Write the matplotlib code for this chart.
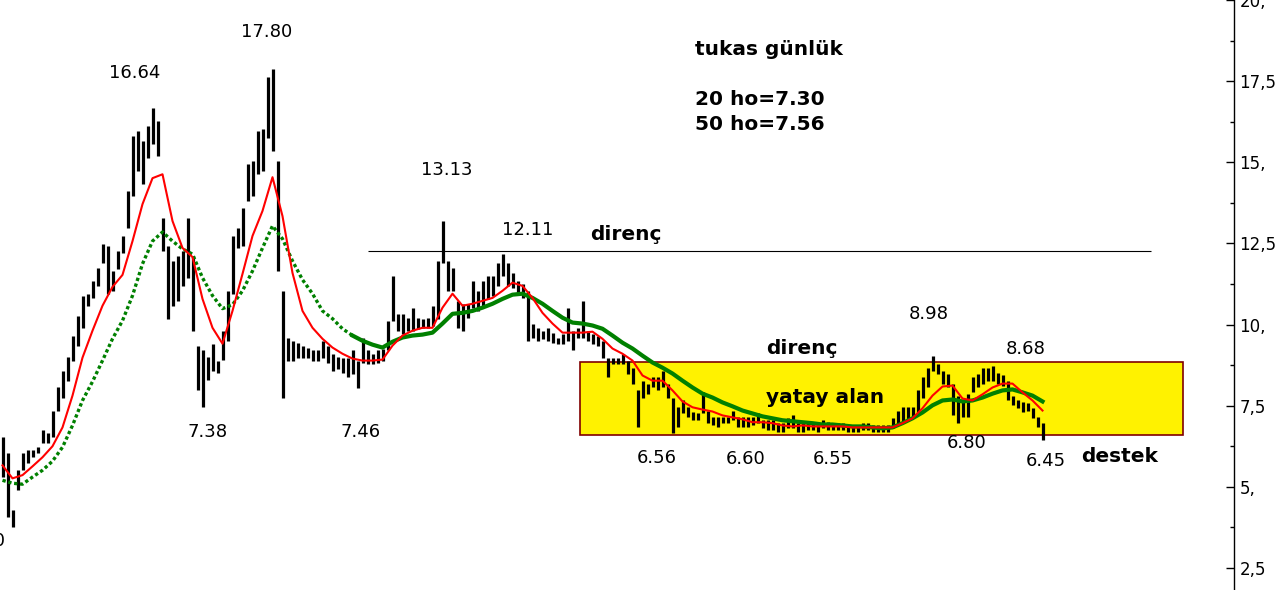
import numpy as np
import matplotlib.pyplot as plt
from matplotlib.patches import Rectangle
from matplotlib.transforms import blended_transform_factory

# daily bars (one bar every 5 px)
highs = [
    6.53, 6.03, 4.28, 5.51, 6.03, 6.12, 6.12, 6.22, 6.74, 6.65,
    7.35, 8.06, 8.58, 9.00, 9.66, 10.27, 10.89, 10.95, 11.35, 11.74,
    12.48, 12.42, 11.65, 12.27, 12.73, 14.11, 15.80, 15.95, 15.65, 16.11,
    16.66, 16.26, 13.28, 12.42, 11.96, 12.11, 12.27, 13.28, 12.11, 9.35,
    9.20, 9.00, 9.41, 8.89, 9.81, 11.04, 12.73, 12.97, 13.59, 14.94,
    15.03, 15.95, 16.04, 17.64, 17.86, 15.03, 11.04, 9.60, 9.50, 9.44,
    9.35, 9.29, 9.20, 9.20, 9.50, 9.35, 9.10, 9.00, 8.98, 8.98,
    9.20, 8.89, 9.60, 9.20, 9.10, 9.20, 9.26, 10.12, 11.50, 10.33,
    10.33, 10.21, 10.52, 10.21, 10.18, 10.21, 10.58, 11.96, 13.19, 11.96,
    11.74, 10.73, 10.64, 10.64, 11.35, 11.04, 11.35, 11.50, 11.50, 11.90,
    12.17, 11.90, 11.59, 11.35, 11.25, 11.04, 10.03, 9.90, 9.81, 9.90,
    9.75, 9.60, 9.72, 10.52, 9.81, 9.90, 10.73, 9.81, 9.72, 9.66,
    9.50, 8.98, 8.98, 8.98, 9.10, 8.89, 8.67, 7.97, 8.27, 8.18,
    8.37, 8.37, 8.58, 8.18, 7.75, 7.45, 7.66, 7.45, 7.29, 7.26,
    7.91, 7.35, 7.14, 7.14, 7.14, 7.14, 7.35, 7.14, 7.14, 7.14,
    7.14, 7.26, 7.05, 7.05, 7.05, 6.96, 6.96, 7.11, 7.20, 6.96,
    6.96, 6.96, 6.96, 6.89, 7.05, 6.99, 6.96, 6.96, 6.96, 6.89,
    6.89, 6.89, 6.96, 6.96, 6.89, 6.89, 6.89, 6.89, 7.11, 7.35,
    7.45, 7.45, 7.45, 7.97, 8.37, 8.67, 9.04, 8.79, 8.58, 8.49,
    8.18, 7.81, 7.66, 7.87, 8.37, 8.49, 8.67, 8.67, 8.73, 8.52,
    8.43, 8.27, 7.81, 7.66, 7.60, 7.57, 7.42, 7.14, 6.96,
]
lows = [
    5.30, 4.07, 3.76, 4.90, 5.51, 5.73, 5.91, 6.03, 6.34, 6.34,
    6.53, 7.35, 7.75, 8.27, 8.89, 9.35, 9.90, 10.58, 10.82, 11.19,
    11.90, 10.95, 11.04, 11.72, 12.21, 12.97, 13.96, 14.73, 14.33, 15.12,
    15.55, 15.19, 12.27, 10.18, 10.58, 10.73, 11.19, 11.44, 9.81, 7.97,
    7.45, 8.30, 8.58, 8.52, 8.90, 9.50, 10.95, 12.36, 12.42, 13.80,
    13.96, 14.63, 14.73, 15.74, 15.34, 11.65, 7.75, 8.89, 8.89, 8.98,
    8.98, 8.98, 8.89, 8.89, 8.98, 8.83, 8.58, 8.63, 8.52, 8.37,
    8.49, 8.03, 8.83, 8.79, 8.79, 8.83, 8.89, 9.20, 10.12, 9.81,
    9.72, 9.81, 9.81, 9.87, 9.90, 9.90, 9.97, 10.18, 11.90, 11.04,
    11.04, 9.90, 9.81, 10.21, 10.52, 10.42, 10.58, 10.79, 10.88, 11.19,
    11.50, 11.19, 11.13, 10.98, 10.82, 9.50, 9.60, 9.50, 9.56, 9.50,
    9.44, 9.41, 9.41, 9.50, 9.20, 9.60, 9.60, 9.50, 9.41, 9.35,
    8.98, 8.37, 8.79, 8.79, 8.79, 8.49, 8.18, 6.83, 7.75, 7.87,
    8.06, 7.97, 8.06, 7.75, 6.65, 6.83, 7.26, 7.14, 7.05, 7.05,
    7.26, 6.96, 6.89, 6.83, 6.96, 6.96, 7.05, 6.83, 6.83, 6.83,
    6.89, 6.96, 6.80, 6.74, 6.74, 6.68, 6.68, 6.80, 6.80, 6.68,
    6.68, 6.74, 6.74, 6.68, 6.80, 6.74, 6.74, 6.74, 6.74, 6.68,
    6.68, 6.68, 6.74, 6.74, 6.68, 6.68, 6.68, 6.68, 6.80, 6.89,
    6.99, 7.05, 7.14, 7.26, 7.75, 8.06, 8.58, 8.49, 8.18, 8.06,
    7.20, 6.96, 7.14, 7.14, 7.91, 8.06, 8.18, 8.27, 8.27, 8.18,
    8.12, 7.66, 7.51, 7.42, 7.29, 7.35, 7.11, 6.83, 6.43,
]

# moving averages, one point every 2 bars
ma20 = [
    5.66, 5.26, 5.36, 5.63, 5.91, 6.25, 6.83, 7.81, 8.98, 9.81,
    10.58, 11.16, 11.53, 12.57, 13.71, 14.51, 14.63, 13.19, 12.36, 12.08,
    10.79, 9.90, 9.41, 10.42, 11.56, 12.73, 13.50, 14.54, 13.34, 11.59,
    10.42, 9.90, 9.56, 9.29, 9.10, 8.95, 8.89, 8.89, 8.92, 9.35,
    9.66, 9.81, 9.90, 9.90, 10.52, 10.95, 10.58, 10.64, 10.73, 10.82,
    11.04, 11.29, 11.19, 10.82, 10.36, 10.03, 9.75, 9.75, 9.75, 9.78,
    9.56, 9.26, 9.10, 8.89, 8.43, 8.27, 8.27, 7.97, 7.63, 7.45,
    7.38, 7.32, 7.20, 7.14, 7.08, 6.99, 6.99, 6.96, 6.89, 6.86,
    6.89, 6.86, 6.86, 6.86, 6.86, 6.83, 6.83, 6.83, 6.83, 6.83,
    6.96, 7.11, 7.42, 7.81, 8.09, 8.12, 7.72, 7.66, 7.85, 8.06,
    8.18, 8.18, 7.91, 7.66, 7.35,
]
ma50 = [
    5.20, 5.11, 5.08, 5.30, 5.51, 5.79, 6.22, 6.89, 7.66, 8.24,
    8.89, 9.56, 10.12, 10.89, 11.87, 12.57, 12.85, 12.57, 12.33, 12.17,
    11.44, 10.89, 10.49, 10.61, 11.04, 11.65, 12.36, 13.04, 12.64, 11.96,
    11.38, 10.95, 10.42, 10.18, 9.87, 9.66, 9.50, 9.38, 9.29, 9.47,
    9.60, 9.66, 9.69, 9.75, 10.03, 10.33, 10.36, 10.42, 10.52, 10.64,
    10.79, 10.92, 10.95, 10.82, 10.64, 10.42, 10.21, 10.06, 10.03, 9.97,
    9.87, 9.66, 9.44, 9.26, 9.04, 8.83, 8.67, 8.49, 8.27, 8.06,
    7.87, 7.75, 7.60, 7.48, 7.35, 7.26, 7.17, 7.11, 7.05, 7.02,
    6.99, 6.96, 6.92, 6.92, 6.89, 6.86, 6.86, 6.83, 6.80, 6.83,
    6.96, 7.11, 7.29, 7.51, 7.66, 7.69, 7.63, 7.66, 7.75, 7.87,
    7.97, 8.00, 7.91, 7.81, 7.63,
]
ma_step = 2
dotted_until = 35

yticks = [2.5, 5, 7.5, 10, 12.5, 15, 17.5, 20]
ytick_labels = ['2,5', '5,', '7,5', '10,', '12,5', '15,', '17,5', '20,']

# price labels: text, bar index, price level
price_labels = [
    ('16.64', 26.5, 17.76), ('17.80', 52.9, 19.02), ('13.13', 88.9, 14.76),
    ('12.11', 105.1, 12.91), ('7.38', 41.1, 6.68), ('7.46', 71.7, 6.68),
    ('6.56', 130.9, 5.88), ('6.60', 148.7, 5.85), ('6.55', 166.1, 5.85),
    ('6.80', 192.9, 6.34), ('6.45', 208.7, 5.79), ('8.98', 185.3, 10.33),
    ('8.68', 204.7, 9.26),
]
notes = [
    ('tukas günlük', 138.5, 18.47), ('20 ho=7.30', 138.5, 16.93),
    ('50 ho=7.56', 138.5, 16.17), ('direnç', 117.5, 12.76),
    ('direnç', 152.7, 9.26), ('yatay alan', 152.7, 7.75),
    ('destek', 215.7, 5.94),
]
resistance = 12.27
band_low, band_high = 6.585, 8.858

fig = plt.figure(figsize=(12.78, 5.9), dpi=100)
ax = fig.add_axes([0, 0, 1234 / 1278, 1])

ax.add_patch(Rectangle((115.5, band_low), 236.1 - 115.5, band_high - band_low,
                       facecolor='#fff200', edgecolor='#800000', lw=1.2, zorder=1))
ax.hlines(resistance, 73.1, 229.7, color='black', lw=0.8, zorder=5)

bx = np.arange(len(highs))
ax.vlines(bx, lows, highs, color='black', lw=2.3, zorder=3)

mx = np.arange(len(ma20)) * ma_step
ax.plot(mx[:dotted_until + 1], ma50[:dotted_until + 1], color='#008000', lw=2.4,
        ls=(0, (1, 0.8)), zorder=4)
ax.plot(mx[dotted_until:], ma50[dotted_until:], color='#008000', lw=3, zorder=4)
ax.plot(mx, ma20, color='#ff0000', lw=1.5, zorder=4)

for t, px, py in price_labels:
    ax.text(px, py, t, fontsize=13, ha='center', va='center', color='black')
for t, px, py in notes:
    ax.text(px, py, t, fontsize=14.5, fontweight='bold', ha='left', va='center',
            color='black')
# cut-off label at the left edge
tr = blended_transform_factory(ax.transAxes, ax.transData)
ax.text(6 / 1234, 3.33, '3.70', fontsize=13, ha='right', va='center', transform=tr)

ax.set_xlim(-0.5, 246.3)
ax.set_ylim(1.82, 19.94)
ax.set_xticks([])
ax.yaxis.tick_right()
ax.set_yticks(yticks)
ax.set_yticklabels(ytick_labels)
ax.set_yticks(np.arange(3.75, 20, 2.5), minor=True)
ax.tick_params(axis='y', which='major', direction='in', length=6, width=1,
               pad=4, labelsize=12, labelcolor='black')
ax.tick_params(axis='y', which='minor', direction='in', length=3, width=1)
for s in ['top', 'left', 'bottom']:
    ax.spines[s].set_visible(False)
ax.spines['right'].set_linewidth(1)

fig.savefig('out.png', dpi=100)
